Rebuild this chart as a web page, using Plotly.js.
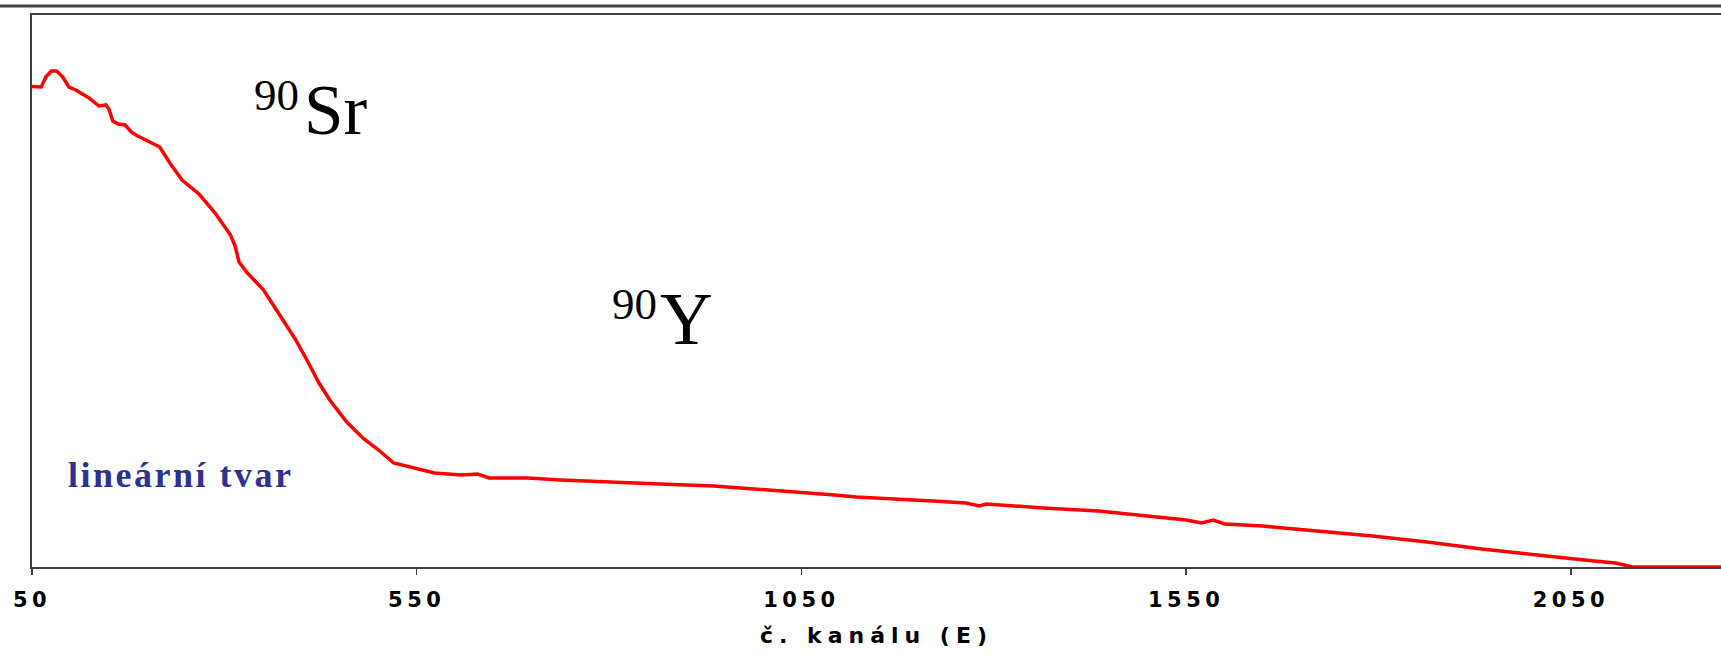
<!DOCTYPE html>
<html>
<head>
<meta charset="utf-8">
<script src="https://cdn.plot.ly/plotly-3.0.1.min.js"></script>
<style>
  html, body { margin: 0; padding: 0; background: #ffffff; }
  #chart { width: 1721px; height: 655px; }
  .xtick text { letter-spacing: 4.5px; }
  .g-xtitle text { letter-spacing: 6px; }
</style>
</head>
<body>
<div id="chart"></div>
<script>
// Channel numbers (x) and relative counts (y, arbitrary linear units)
const channels = [42, 62, 68, 75, 82, 90, 98, 107, 124, 137, 146, 150, 155, 162, 171, 179, 185, 216, 230, 245, 267, 288, 308, 314, 319, 330, 351, 373, 392, 408, 423, 437, 459, 480, 502, 520, 545, 573, 608, 629, 644, 694, 737, 794, 847, 866, 936, 1007, 1037, 1050, 1093, 1121, 1150, 1221, 1264, 1281, 1290, 1364, 1436, 1506, 1550, 1570, 1585, 1600, 1649, 1720, 1792, 1863, 1934, 2006, 2050, 2080, 2108, 2130, 2245];
const counts = [481, 480, 490, 496, 496, 490, 480, 477, 469, 461, 462, 458, 446, 443, 442, 435, 432, 420, 403, 387, 373, 354, 332, 321, 305, 294, 277, 250, 228, 206, 184, 167, 145, 129, 116, 104, 99, 94, 92, 93, 89, 89, 87, 85, 84, 83, 81, 77, 75, 75, 72, 70, 69, 66, 64, 61, 63, 59, 56, 51, 47, 44, 47, 43, 41, 36, 31, 25, 18, 12, 8, 6, 4, 0, 0];

const tickValues = [50, 550, 1050, 1550, 2050];
const tickLabels = ["50", "550", "1050", "1550", "2050"];
const xTitle = "č. kanálu (E)";
const labelSr = ["90", "Sr"];
const labelY = ["90", "Y"];
const labelShape = "lineární tvar";

const trace = {
  x: channels,
  y: counts,
  type: "scatter",
  mode: "lines",
  line: { color: "#ff0000", width: 3.5 },
  hoverinfo: "skip",
  showlegend: false
};

const serif = "Liberation Serif, Times New Roman, serif";
const sans = "DejaVu Sans, Verdana, sans-serif";

const layout = {
  width: 1721,
  height: 655,
  margin: { l: 32, r: 0, t: 15, b: 88, pad: 0 },
  paper_bgcolor: "#ffffff",
  plot_bgcolor: "#ffffff",
  showlegend: false,
  xaxis: {
    range: [50, 2245],
    tickmode: "array",
    tickvals: tickValues,
    ticktext: tickLabels,
    ticks: "outside",
    ticklen: 6,
    tickwidth: 1.5,
    tickcolor: "#404040",
    showline: true,
    linecolor: "#404040",
    linewidth: 2,
    mirror: true,
    showgrid: false,
    zeroline: false,
    tickfont: { family: sans, size: 21, color: "#000000", weight: "bold" },
    ticklabelstandoff: 7,
    title: {
      text: xTitle,
      font: { family: sans, size: 22, color: "#000000", weight: "bold" },
      standoff: 16
    }
  },
  yaxis: {
    range: [0, 552],
    showticklabels: false,
    ticks: "",
    showline: true,
    linecolor: "#404040",
    linewidth: 2,
    mirror: false,
    showgrid: false,
    zeroline: false
  },
  shapes: [
    {
      type: "line",
      xref: "paper", yref: "paper",
      xsizemode: "pixel", ysizemode: "pixel",
      xanchor: 0, yanchor: 1,
      x0: -40, x1: 1720, y0: 9, y1: 9,
      line: { color: "#444444", width: 3 }
    }
  ],
  annotations: [
    { xref: "paper", yref: "paper", x: (252 - 32) / 1689, y: (567 - 95) / 552, xanchor: "left", yanchor: "middle",
      text: labelSr[0], showarrow: false, font: { family: serif, size: 45, color: "#000000" } },
    { xref: "paper", yref: "paper", x: (302 - 32) / 1689, y: (567 - 110) / 552, xanchor: "left", yanchor: "middle",
      text: labelSr[1], showarrow: false, font: { family: serif, size: 71, color: "#000000" } },
    { xref: "paper", yref: "paper", x: (610 - 32) / 1689, y: (567 - 304) / 552, xanchor: "left", yanchor: "middle",
      text: labelY[0], showarrow: false, font: { family: serif, size: 45, color: "#000000" } },
    { xref: "paper", yref: "paper", x: (658 - 32) / 1689, y: (567 - 319) / 552, xanchor: "left", yanchor: "middle",
      text: labelY[1], showarrow: false, font: { family: serif, size: 73, color: "#000000" } },
    { xref: "paper", yref: "paper", x: (66 - 32) / 1689, y: (567 - 475) / 552, xanchor: "left", yanchor: "middle",
      text: '<span style="letter-spacing:2.5px">' + labelShape + '</span>', showarrow: false,
      font: { family: serif, size: 36, color: "#2e3192", weight: "bold" } }
  ]
};

Plotly.newPlot("chart", [trace], layout, { displayModeBar: false, staticPlot: true });
</script>
</body>
</html>
